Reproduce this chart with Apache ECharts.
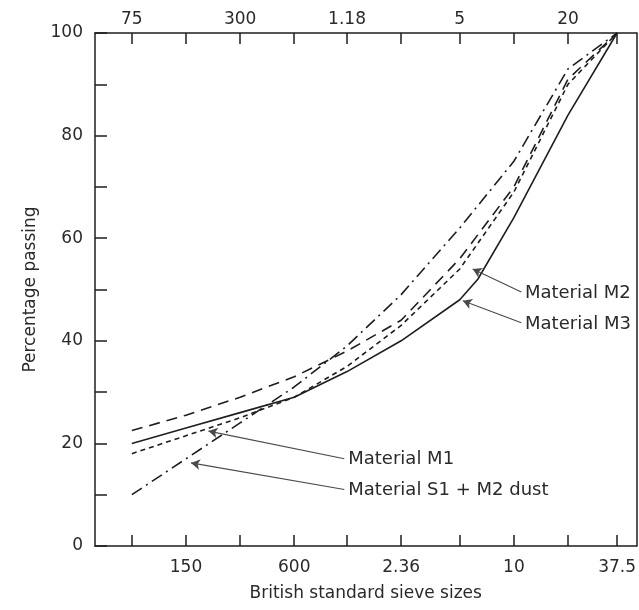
<!DOCTYPE html>
<html>
<head>
<meta charset="utf-8">
<script src="https://cdn.jsdelivr.net/npm/echarts@6/dist/echarts.min.js"></script>
<style>
  html, body { margin: 0; padding: 0; background: #ffffff; }
  #chart { width: 639px; height: 610px; }
</style>
</head>
<body>
<div id="chart"></div>
<script>
// Sieve apertures in mm (6.3 mm only carries a point for M3)
const sieveMm = [0.075, 0.15, 0.3, 0.6, 1.18, 2.36, 5, 6.3, 10, 20, 37.5];

// Standard sieves shown on the axes, with their printed labels
const tickMm = [0.075, 0.15, 0.3, 0.6, 1.18, 2.36, 5, 10, 20, 37.5];
const tickText = ['75', '150', '300', '600', '1.18', '2.36', '5', '10', '20', '37.5'];
const bottomLabelMm = [0.15, 0.6, 2.36, 10, 37.5];
const topLabelMm = [0.075, 0.3, 1.18, 5, 20];

// Percentage passing for each material (null = not measured at that sieve)
const materialM1 = [18, 21.5, 25, 29, 35, 43, 54, null, 69, 90, 100];
const materialM2 = [22.5, 25.5, 29, 33, 38, 44, 56, null, 70, 91, 100];
const materialM3 = [20, 23, 26, 29, 34, 40, 48, 52, 64, 84, 100];
const materialS1Dust = [10, 17, 24, 31, 39, 49, 62, null, 75, 93, 100];

// Leader annotations: label anchor and arrow tip, in [mm, %]
const notes = [
  { text: 'Material M2', from: [11, 49.5], to: [5.9, 54] },
  { text: 'Material M3', from: [11, 43.5], to: [5.2, 47.8] },
  { text: 'Material M1', from: [1.14, 17], to: [0.2, 22.4] },
  { text: 'Material S1 + M2 dust', from: [1.14, 11], to: [0.16, 16.2] }
];

const lg = Math.log10;
const ink = '#1e1e1e';
const textInk = '#2a2a2a';
const font = 'DejaVu Sans, Liberation Sans, sans-serif';

function pairs(values) {
  return sieveMm.map((s, i) => [lg(s), values[i]]);
}

function sieveLabel(v) {
  let best = 0;
  tickMm.forEach((s, i) => {
    if (Math.abs(lg(s) - v) < Math.abs(lg(tickMm[best]) - v)) best = i;
  });
  return tickText[best];
}

function xAxisDef(position, labelMm, margin) {
  return {
    type: 'value',
    position: position,
    min: -1.33,
    max: 1.682,
    splitLine: { show: false },
    axisLine: { show: true, onZero: false, lineStyle: { color: ink, width: 1.5 } },
    axisTick: {
      show: true, inside: true, length: 11,
      customValues: tickMm.map(lg),
      lineStyle: { color: ink, width: 1.5 }
    },
    axisLabel: {
      show: true,
      customValues: labelMm.map(lg),
      formatter: sieveLabel,
      color: textInk, fontSize: 17, fontFamily: font,
      margin: margin
    }
  };
}

function lineSeries(name, values, dash) {
  return {
    name: name,
    type: 'line',
    data: pairs(values),
    connectNulls: true,
    showSymbol: false,
    symbol: 'none',
    silent: true,
    lineStyle: { color: ink, width: 1.6, type: dash }
  };
}

const chart = echarts.init(document.getElementById('chart'), null, { renderer: 'canvas' });

const bottomAxis = xAxisDef('bottom', bottomLabelMm, 13);
bottomAxis.name = 'British standard sieve sizes';
bottomAxis.nameLocation = 'middle';
bottomAxis.nameGap = 39;
bottomAxis.nameTextStyle = { color: textInk, fontSize: 17, fontFamily: font };

const topAxis = xAxisDef('top', topLabelMm, 5);

const series = [
  lineSeries('Material M3', materialM3, 'solid'),
  lineSeries('Material M1', materialM1, [5, 4]),
  lineSeries('Material M2', materialM2, [11, 7]),
  lineSeries('Material S1 + M2 dust', materialS1Dust, [12, 5, 2, 5])
];

// Arrows with their text, drawn as a mark line on an empty helper series
series.push({
  type: 'line',
  data: [],
  silent: true,
  markLine: {
    silent: true,
    symbol: ['none', 'arrow'],
    symbolSize: [8, 9],
    lineStyle: { color: '#4a4a4a', width: 1.1, type: 'solid' },
    label: {
      show: true,
      position: 'start',
      distance: 4,
      color: textInk, fontSize: 18, fontFamily: font,
      formatter: p => p.data.text
    },
    emphasis: { disabled: true },
    data: notes.map(n => [
      { coord: [lg(n.from[0]), n.from[1]], text: n.text },
      { coord: [lg(n.to[0]), n.to[1]] }
    ])
  }
});

chart.setOption({
  animation: false,
  backgroundColor: '#ffffff',
  grid: { left: 95, right: 1, top: 33, bottom: 64, containLabel: false },
  xAxis: [bottomAxis, topAxis],
  yAxis: [
    {
      type: 'value',
      position: 'left',
      min: 0, max: 100,
      name: 'Percentage passing',
      nameLocation: 'middle',
      nameGap: 56,
      nameTextStyle: { color: textInk, fontSize: 17, fontFamily: font },
      splitLine: { show: false },
      axisLine: { show: true, onZero: false, lineStyle: { color: ink, width: 1.5 } },
      axisTick: {
        show: true, inside: true, length: 12,
        customValues: [0, 10, 20, 30, 40, 50, 60, 70, 80, 90, 100],
        lineStyle: { color: ink, width: 1.5 }
      },
      axisLabel: {
        customValues: [0, 20, 40, 60, 80, 100],
        color: textInk, fontSize: 17, fontFamily: font, margin: 12
      }
    },
    {
      type: 'value',
      position: 'right',
      min: 0, max: 100,
      splitLine: { show: false },
      axisLine: { show: true, onZero: false, lineStyle: { color: ink, width: 1.5 } },
      axisTick: { show: false },
      axisLabel: { show: false }
    }
  ],
  series: series
});
</script>
</body>
</html>
